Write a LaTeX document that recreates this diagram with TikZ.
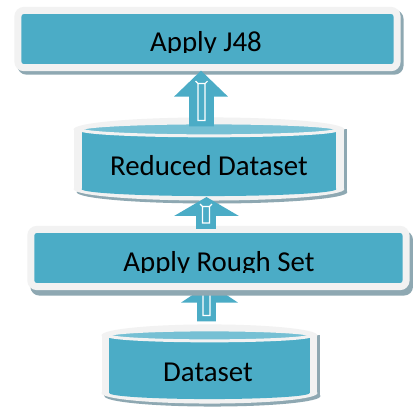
\documentclass[tikz,border=0pt]{standalone}
\usepackage{fontspec}
\setmainfont{Carlito}
\usepackage{tikz}
\usetikzlibrary{calc}

\definecolor{boxblue}{HTML}{4BACC6}
\definecolor{lidblue}{HTML}{76C0D4}
\definecolor{rimwhite}{HTML}{F2F2F2}
\definecolor{shadowgray}{HTML}{8EA8B2}

\tikzset{
  lbl/.style={anchor=base, inner sep=0pt, font=\fontsize{29}{32}\selectfont},
  boxrim/.style={fill=boxblue, draw=rimwhite, line width=7pt, rounded corners=6pt},
  boxshadow/.style={fill=shadowgray, rounded corners=9pt},
  lid/.style={fill=lidblue, draw=rimwhite, line width=3pt},
  slot/.style={draw=white, line width=1.2pt},
}

% can: centre x, lid y, base y, half width, lid radius
\newcommand{\can}[5]{
  \fill[shadowgray] (#1-#4-8+3,#2) rectangle (#1+#4+8+3,#3+3);
  \fill[shadowgray] (#1+3,#3+3) ellipse [x radius=#4+8, y radius=#5+5];
  \fill[rimwhite] (#1-#4-8,#2) rectangle (#1+#4+8,#3);
  \fill[rimwhite] (#1,#2) ellipse [x radius=#4+8, y radius=#5+5.5];
  \fill[rimwhite] (#1,#3) ellipse [x radius=#4+8, y radius=#5+5];
  \fill[boxblue] (#1-#4,#2) rectangle (#1+#4,#3);
  \fill[boxblue] (#1,#3) ellipse [x radius=#4, y radius=#5+0.5];
  \draw[lid] (#1,#2) ellipse [x radius=#4+1.5, y radius=#5];
}

% block arrow: tail, tip, half shaft, half head, head length
\newcommand{\blockarrow}[5]{
  \fill[boxblue] let \p1=(#1), \p2=(#2) in
    (\x1-#3pt,\y1) -- (\x1-#3pt,\y2-#5pt) -- (\x2-#4pt,\y2-#5pt) -- (\x2,\y2)
    -- (\x2+#4pt,\y2-#5pt) -- (\x1+#3pt,\y2-#5pt) -- (\x1+#3pt,\y1) -- cycle;
  \draw[slot] let \p1=(#1), \p2=(#2) in
    (\x1-3.5pt,\y1+6pt) rectangle (\x1+3.5pt,\y2-#5pt*0.5)
    (\x1-3.5pt,\y2-#5pt*0.5) -- ++(-2.5pt,2.5pt)
    (\x1+3.5pt,\y2-#5pt*0.5) -- ++(2.5pt,2.5pt);
}

\begin{document}
\begin{tikzpicture}[x=1pt, y=-1pt]
\fill[white] (0,0) rectangle (413,412);

% Apply J48
\fill[boxshadow] (17.5,10) rectangle (405.5,75);
\draw[boxrim] (18,10.5) rectangle (399,68);
\begin{scope}
  \clip (20,14) rectangle (396,53);
  \node[lbl] (j48) at (207,52) {Apply J48};
\end{scope}

% Reduced Dataset
\can{210}{130}{190}{128}{6.5}
\node[lbl] (reduced) at (210,176.5) {Reduced Dataset};

% arrow under the rough set box
\coordinate (data-top) at (207.5,323);
\coordinate (rough-bottom) at (210.5,285);
\blockarrow{data-top}{rough-bottom}{9.5}{28.5}{19}

% Apply Rough Set
\fill[boxshadow] (30.5,232) rectangle (415,297);
\draw[boxrim] (31,230.5) rectangle (408,288);
\begin{scope}
  \clip (33,234) rectangle (405,274);
  \node[lbl] (rough) at (220,273) {Apply Rough Set};
\end{scope}

% Dataset
\can{210.5}{337}{395}{100.5}{5.5}
\node[lbl] (data) at (209,383) {Dataset};

% arrows up
\coordinate (reduced-top) at (202.5,127);
\coordinate (j48-bottom) at (202,71);
\blockarrow{reduced-top}{j48-bottom}{12.5}{27}{26}

\coordinate (rough-top) at (207,230);
\coordinate (reduced-bottom) at (207.5,198);
\blockarrow{rough-top}{reduced-bottom}{10}{32.5}{19}

\end{tikzpicture}
\end{document}
